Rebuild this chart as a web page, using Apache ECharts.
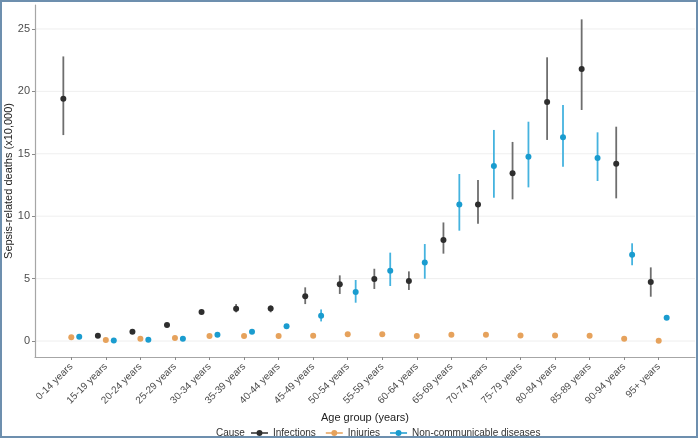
<!DOCTYPE html>
<html>
<head>
<meta charset="utf-8">
<title>Sepsis-related deaths by age group</title>
<script src="https://cdn.jsdelivr.net/npm/echarts@6/dist/echarts.min.js"></script>
<style>
  html, body { margin: 0; padding: 0; background: #fff; }
  #main { width: 700px; height: 441px; }
</style>
</head>
<body>
<div id="main"></div>
<script>
// age groups on the x axis
var ageGroups = ['0-14 years', '15-19 years', '20-24 years', '25-29 years', '30-34 years',
  '35-39 years', '40-44 years', '45-49 years', '50-54 years', '55-59 years', '60-64 years',
  '65-69 years', '70-74 years', '75-79 years', '80-84 years', '85-89 years', '90-94 years', '95+ years']

// infections: estimate, lower, upper
var infVal = [19.4, 0.43, 0.75, 1.28, 2.32, 2.58, 2.6, 3.58, 4.54, 4.97, 4.81, 8.09, 10.93, 13.44, 19.15, 21.79, 14.21, 4.73]
var infLow = [16.5, 0.38, 0.7, 1.2, 2.2, 2.3, 2.3, 2.96, 3.77, 4.17, 4.09, 7.0, 9.4, 11.35, 16.11, 18.51, 11.43, 3.55]
var infHigh = [22.8, 0.48, 0.8, 1.36, 2.45, 2.96, 2.85, 4.3, 5.26, 5.79, 5.58, 9.5, 12.9, 15.95, 22.73, 25.77, 17.17, 5.9]

// injuries: estimate (intervals too small to see)
var injVal = [0.3, 0.08, 0.19, 0.24, 0.4, 0.4, 0.4, 0.43, 0.54, 0.54, 0.4, 0.5, 0.5, 0.45, 0.45, 0.43, 0.19, 0.02]
var injLow = [0.27, 0.06, 0.17, 0.22, 0.37, 0.37, 0.37, 0.4, 0.5, 0.5, 0.37, 0.46, 0.46, 0.41, 0.41, 0.39, 0.16, 0.01]
var injHigh = [0.33, 0.1, 0.21, 0.26, 0.43, 0.43, 0.43, 0.46, 0.58, 0.58, 0.43, 0.54, 0.54, 0.49, 0.49, 0.47, 0.22, 0.03]

// non-communicable diseases: estimate, lower, upper
var ncdVal = [0.35, 0.05, 0.1, 0.19, 0.5, 0.75, 1.18, 2.03, 3.93, 5.63, 6.3, 10.93, 14.02, 14.77, 16.32, 14.66, 6.92, 1.87]
var ncdLow = [0.3, 0.03, 0.07, 0.15, 0.44, 0.65, 1.0, 1.57, 3.07, 4.41, 4.99, 8.84, 11.48, 12.31, 13.97, 12.82, 6.07, 1.7]
var ncdHigh = [0.4, 0.07, 0.13, 0.23, 0.57, 0.85, 1.35, 2.53, 4.89, 7.08, 7.77, 13.38, 16.91, 17.57, 18.91, 16.72, 7.83, 2.05]

var yTicks = [0, 5, 10, 15, 20, 25]

var chart = echarts.init(document.getElementById('main'))

// index positions, dodged a little left/right per cause
var idx = ageGroups.map(function (d, i) { return i })
function rows (offset, val, low, high) {
  return val.map(function (v, i) { return [i + offset, v, low[i], high[i]] })
}

function errorBar (barColor, dotColor) {
  return function (params, api) {
    var x = api.value(0)
    var p = api.coord([x, api.value(1)])
    var lo = api.coord([x, api.value(2)])
    var hi = api.coord([x, api.value(3)])
    return {
      type: 'group',
      children: [
        { type: 'line', shape: { x1: lo[0], y1: lo[1], x2: hi[0], y2: hi[1] }, style: { stroke: barColor, lineWidth: 1.8 } },
        { type: 'circle', shape: { cx: p[0], cy: p[1], r: 3 }, style: { fill: dotColor, stroke: null, lineWidth: 0 } }
      ]
    }
  }
}

// horizontal grid line across the plot for each y tick
function gridLine (params, api) {
  var cs = params.coordSys
  var y = api.coord([0, api.value(0)])[1]
  return {
    type: 'line',
    shape: { x1: cs.x, y1: y, x2: cs.x + cs.width, y2: y },
    style: { stroke: '#efefef', lineWidth: 1 }
  }
}

// short line with a dot on it, both drawn clockwise so nothing cancels out
var legendIcon = 'path://M0,4.2h20v1.6h-20z M6.5,5a3.5,3.5 0 1,1 7,0a3.5,3.5 0 1,1 -7,0z'
var txt = '#4d4d4d'
var font = 'Liberation Sans, Arial, sans-serif'

var option = {
  backgroundColor: '#fff',
  animation: false,
  textStyle: { fontFamily: font },
  grid: { left: 35, right: 5, top: 5, bottom: 84, outerBoundsMode: 'none', containLabel: false },
  graphic: [
    { type: 'rect', shape: { x: 1, y: 1, width: 696, height: 436 }, style: { fill: 'none', stroke: '#6d8fae', lineWidth: 2 }, z: 100 },
    { type: 'text', left: 216, top: 428, style: { text: 'Cause', fontSize: 10, fill: '#333', fontFamily: font } }
  ],
  legend: {
    data: ['Infections', 'Injuries', 'Non-communicable diseases'],
    left: 251,
    top: 428,
    padding: 0,
    itemWidth: 17,
    itemHeight: 6,
    itemGap: 10,
    icon: legendIcon,
    textStyle: { fontSize: 10, color: '#333' }
  },
  xAxis: {
    type: 'value',
    min: -1.05,
    max: 18.05,
    name: 'Age group (years)',
    nameLocation: 'middle',
    nameGap: 55,
    nameTextStyle: { fontSize: 11, color: '#222' },
    splitLine: { show: false },
    axisLine: { show: true, onZero: false, lineStyle: { color: '#a6a6a6', width: 1.2 } },
    axisTick: { show: true, customValues: idx, length: 3, lineStyle: { color: '#8a8a8a' } },
    axisLabel: {
      customValues: idx,
      rotate: 45,
      fontSize: 10,
      color: txt,
      margin: 8,
      formatter: function (v) { return ageGroups[Math.round(v)] || '' }
    }
  },
  yAxis: {
    type: 'value',
    min: -1.28,
    max: 26.92,
    name: 'Sepsis-related deaths (x10,000)',
    nameLocation: 'middle',
    nameRotate: 90,
    nameGap: 21,
    nameMoveOverlap: false,
    nameTextStyle: { fontSize: 11, color: '#222' },
    splitLine: { show: false },
    axisLine: { show: true, onZero: false, lineStyle: { color: '#a6a6a6', width: 1.2 } },
    axisTick: { show: true, customValues: yTicks, length: 3, lineStyle: { color: '#8a8a8a' } },
    axisLabel: { customValues: yTicks, fontSize: 11, color: txt, margin: 5 }
  },
  series: [
    {
      name: 'grid',
      type: 'custom',
      silent: true,
      z: 0,
      renderItem: gridLine,
      encode: { y: 0 },
      data: yTicks.map(function (t) { return [t] })
    },
    {
      name: 'Infections',
      type: 'custom',
      itemStyle: { color: '#2e2e2e' },
      renderItem: errorBar('#6e6e6e', '#2e2e2e'),
      encode: { x: 0, y: [1, 2, 3] },
      data: rows(-0.23, infVal, infLow, infHigh),
      z: 3
    },
    {
      name: 'Injuries',
      type: 'custom',
      itemStyle: { color: '#e6a25c' },
      renderItem: errorBar('#eab07a', '#e6a25c'),
      encode: { x: 0, y: [1, 2, 3] },
      data: rows(0, injVal, injLow, injHigh),
      z: 3
    },
    {
      name: 'Non-communicable diseases',
      type: 'custom',
      itemStyle: { color: '#1a9ccf' },
      renderItem: errorBar('#45b3df', '#1a9ccf'),
      encode: { x: 0, y: [1, 2, 3] },
      data: rows(0.23, ncdVal, ncdLow, ncdHigh),
      z: 3
    }
  ]
}

chart.setOption(option)
</script>
</body>
</html>
